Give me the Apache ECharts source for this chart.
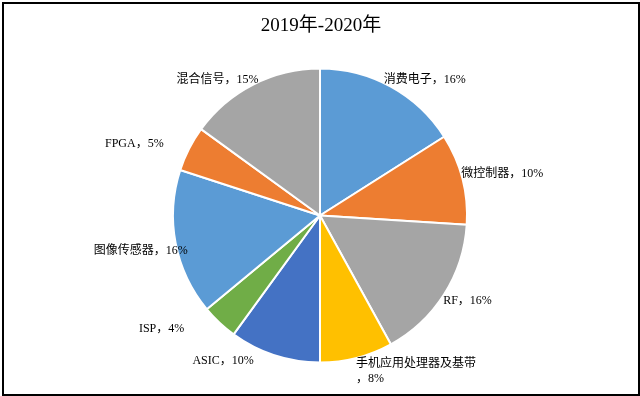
<!DOCTYPE html>
<html>
<head>
<meta charset="utf-8">
<script src="https://cdn.jsdelivr.net/npm/echarts@6/dist/echarts.min.js"></script>
<style>
html,body{margin:0;padding:0;background:#fff;}
#wrap{position:absolute;left:2px;top:2px;width:634px;height:390px;border:2px solid #000;box-sizing:content-box;}
#c{width:634px;height:390px;}
</style>
</head>
<body>
<div id="wrap"><div id="c"></div></div>
<script>
const titleText = '2019年-2020年';
const categories = ['消费电子','微控制器','RF','手机应用处理器及基带','ASIC','ISP','图像传感器','FPGA','混合信号'];
const values = [16,10,16,8,10,4,16,5,15];
const colors = ['#5B9BD5','#ED7D31','#A5A5A5','#FFC000','#4472C4','#70AD47','#5B9BD5','#ED7D31','#A5A5A5'];

// label nudges (style only, px)
const labelNudgeX = [-15,-12,-11,-7,-14,-26,23,-15,13];
const labelNudgeY = [-2,-4,3,8,0,2,7,-2,1];

const chart = echarts.init(document.getElementById('c'));
chart.setOption({
  animation:false,
  title:{
    text:titleText, left:'center', top:8,
    textStyle:{fontFamily:"'Liberation Serif','Noto Sans CJK SC'",fontSize:19,fontWeight:'normal',color:'#000'}
  },
  series:[{
    type:'pie',
    center:[316,211.5],
    radius:147,
    startAngle:90,
    clockwise:true,
    data:categories.map((n,i)=>({name:n,value:values[i],itemStyle:{color:colors[i]}})),
    itemStyle:{borderColor:'#fff',borderWidth:2},
    label:{
      show:true,position:'outside',
      formatter:function(p){
        return p.name==='手机应用处理器及基带' ? p.name+'\n，'+p.value+'%' : p.name+'，'+p.value+'%';
      },
      fontFamily:"'Liberation Serif','Noto Sans CJK SC'",fontSize:12,color:'#000',lineHeight:15
    },
    labelLine:{show:false,length:6,length2:0},
    labelLayout:function(p){
      return {dx:labelNudgeX[p.dataIndex], dy:labelNudgeY[p.dataIndex], hideOverlap:false};
    },
    emphasis:{disabled:true}
  }]
});
</script>
</body>
</html>
